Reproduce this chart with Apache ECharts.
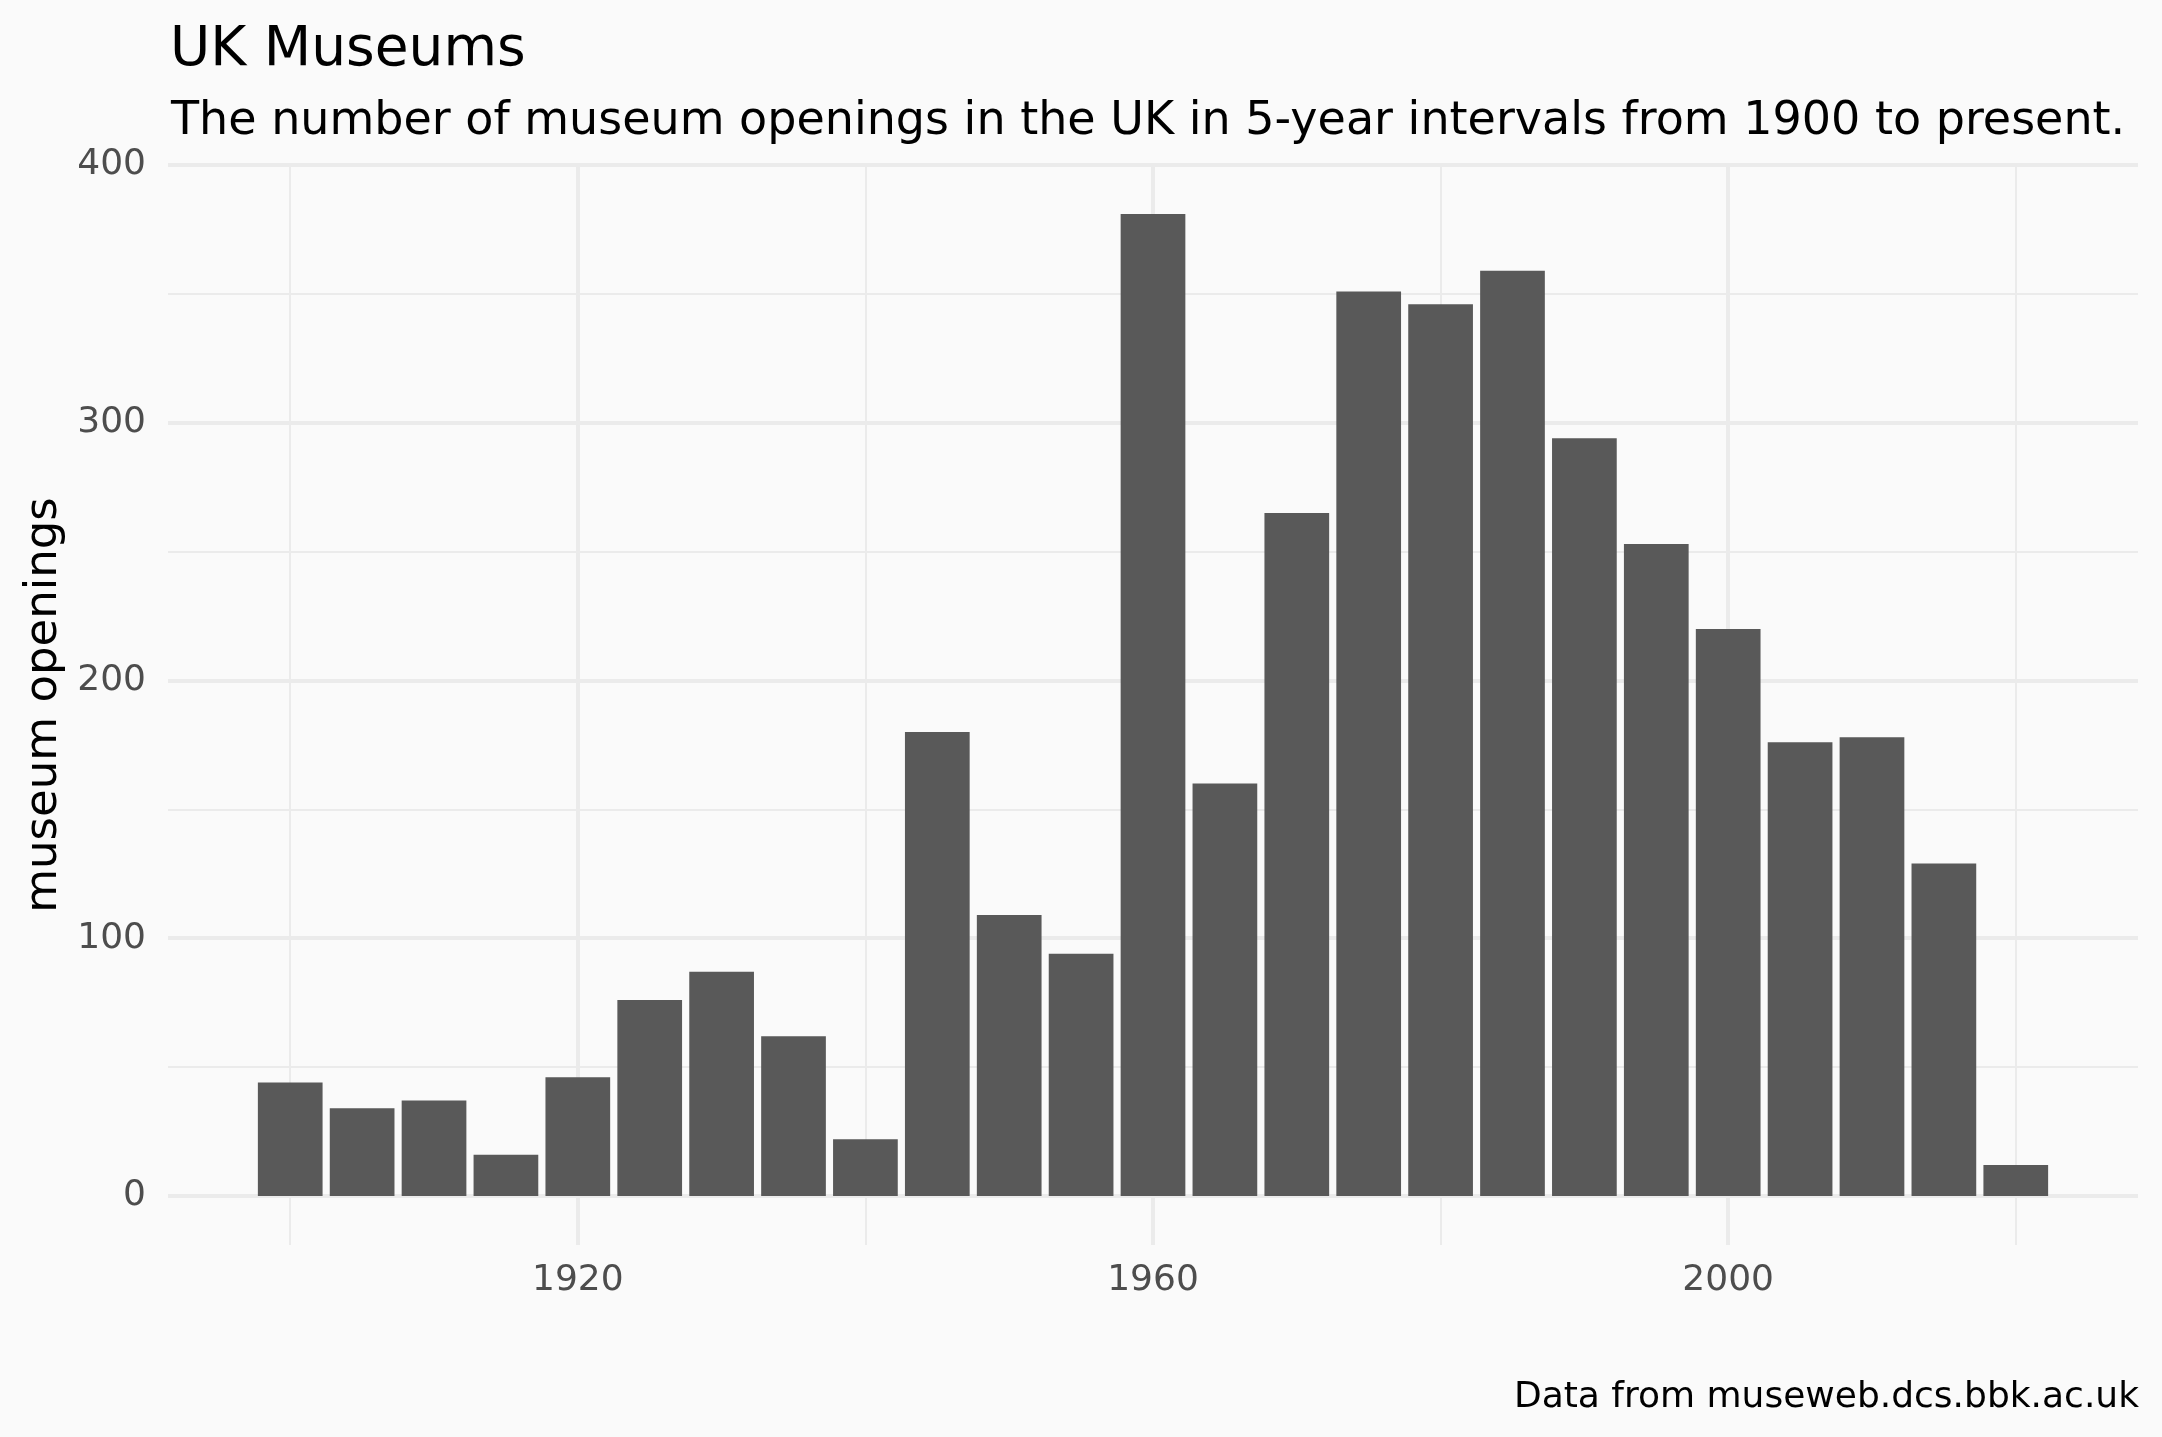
<!DOCTYPE html>
<html>
<head>
<meta charset="utf-8">
<script src="https://cdn.jsdelivr.net/npm/echarts@6/dist/echarts.min.js"></script>
<style>
  html, body { margin: 0; padding: 0; background: #fafafa; }
  #chart { width: 2162px; height: 1437px; }
</style>
</head>
<body>
<div id="chart"></div>
<script>
'use strict';

// museum openings per 5-year interval
var years = [1900, 1905, 1910, 1915, 1920, 1925, 1930, 1935, 1940, 1945, 1950, 1955,
  1960, 1965, 1970, 1975, 1980, 1985, 1990, 1995, 2000, 2005, 2010, 2015, 2020];
var openings = [44, 34, 37, 16, 46, 76, 87, 62, 22, 180, 109, 94,
  381, 160, 265, 351, 346, 359, 294, 253, 220, 176, 178, 129, 12];

var xLabels = [1920, 1960, 2000];
var xMinor = [1900, 1940, 1980, 2020];
var yLabels = [0, 100, 200, 300, 400];
var yMinor = [50, 150, 250, 350];

var font = 'DejaVu Sans';
var gridLeft = 168, gridRight = 24;
var xMin = 1891.5, xMax = 2028.5;
var barW = 4.5 * (2162 - gridLeft - gridRight) / (xMax - xMin);

var chartDom = document.getElementById('chart');
var myChart = echarts.init(chartDom);

function gridLines(vals, key, width) {
  return vals.map(function (v) {
    var o = {lineStyle: {width: width}};
    o[key] = v;
    return o;
  });
}

var option = {
  backgroundColor: '#fafafa',
  animation: false,
  title: [
    {
      text: 'UK Museums',
      left: gridLeft - 3, top: 18,
      textStyle: {fontFamily: font, fontSize: 55, lineHeight: 55, fontWeight: 'normal', color: '#000'}
    },
    {
      text: 'The number of museum openings in the UK in 5-year intervals from 1900 to present.',
      left: gridLeft - 2, top: 94,
      textStyle: {fontFamily: font, fontSize: 46, lineHeight: 46, fontWeight: 'normal', color: '#000'}
    },
    {
      text: 'Data from museweb.dcs.bbk.ac.uk',
      right: gridRight - 6, top: 1375,
      textStyle: {fontFamily: font, fontSize: 36, lineHeight: 36, fontWeight: 'normal', color: '#000'}
    }
  ],
  grid: {left: gridLeft, right: gridRight, top: 165, bottom: 192, containLabel: false},
  xAxis: {
    type: 'value',
    min: xMin, max: xMax,
    axisLine: {show: false},
    axisTick: {show: false},
    splitLine: {show: false},
    axisLabel: {
      customValues: xLabels,
      margin: 18,
      fontFamily: font, fontSize: 36, color: '#4d4d4d',
      formatter: function (v) { return String(v); }
    }
  },
  yAxis: {
    type: 'value',
    min: -19.05, max: 400.05,
    name: 'museum openings',
    nameLocation: 'middle',
    nameGap: 100,
    nameTextStyle: {fontFamily: font, fontSize: 45, color: '#000'},
    axisLine: {show: false},
    axisTick: {show: false},
    splitLine: {show: false},
    axisLabel: {
      customValues: yLabels,
      margin: 22,
      fontFamily: font, fontSize: 36, color: '#4d4d4d',
      formatter: function (v) { return String(v); }
    }
  },
  series: [
    {
      // panel grid lines
      type: 'scatter',
      data: [],
      silent: true,
      markLine: {
        z: 1,
        silent: true,
        symbol: 'none',
        label: {show: false},
        lineStyle: {color: '#ebebeb', type: 'solid'},
        data: [].concat(
          gridLines(yMinor, 'yAxis', 2),
          gridLines(xMinor, 'xAxis', 2),
          gridLines(yLabels, 'yAxis', 4),
          gridLines(xLabels, 'xAxis', 4)
        )
      }
    },
    {
      type: 'bar',
      z: 2,
      barWidth: barW,
      itemStyle: {color: '#595959'},
      data: years.map(function (y, i) {
        return [y, openings[i]];
      })
    }
  ]
};

myChart.setOption(option);
</script>
</body>
</html>
